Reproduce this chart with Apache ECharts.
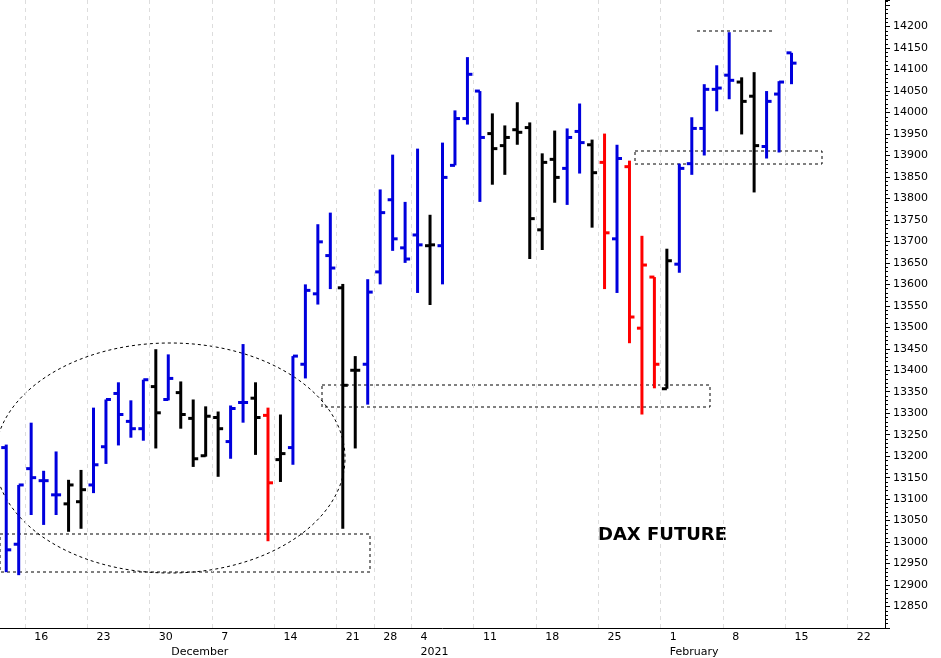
<!DOCTYPE html>
<html>
<head>
    <script src="https://cdn.jsdelivr.net/npm/echarts@6/dist/echarts.min.js"></script>
</head>
<body style="margin:0">
    <div id="chart" style="width:941px;height:658px;background:#fff"></div>
<script>
    const dates = [
        '2020-11-12', '2020-11-13',
        '2020-11-16', '2020-11-17', '2020-11-18', '2020-11-19', '2020-11-20',
        '2020-11-23', '2020-11-24', '2020-11-25', '2020-11-26', '2020-11-27',
        '2020-11-30', '2020-12-01', '2020-12-02', '2020-12-03', '2020-12-04',
        '2020-12-07', '2020-12-08', '2020-12-09', '2020-12-10', '2020-12-11',
        '2020-12-14', '2020-12-15', '2020-12-16', '2020-12-17', '2020-12-18',
        '2020-12-21', '2020-12-22', '2020-12-23',
        '2020-12-28', '2020-12-29', '2020-12-30',
        '2021-01-04', '2021-01-05', '2021-01-06', '2021-01-07', '2021-01-08',
        '2021-01-11', '2021-01-12', '2021-01-13', '2021-01-14', '2021-01-15',
        '2021-01-18', '2021-01-19', '2021-01-20', '2021-01-21', '2021-01-22',
        '2021-01-25', '2021-01-26', '2021-01-27', '2021-01-28', '2021-01-29',
        '2021-02-01', '2021-02-02', '2021-02-03', '2021-02-04', '2021-02-05',
        '2021-02-08', '2021-02-09', '2021-02-10', '2021-02-11', '2021-02-12',
        '2021-02-15', '2021-02-16', '2021-02-17', '2021-02-18', '2021-02-19',
        '2021-02-22', '2021-02-23', '2021-02-24'
    ]
    const opens = [13220, 12995, 13171, 13143, 13110, 13089, 13094, 13133, 13222, 13346, 13281, 13264,
        13362, 13332, 13348, 13288, 13201, 13290, 13234, 13325, 13335, 13295, 13192, 13220, 13414, 13578, 13667,
        13592, 13400, 13414, 13629, 13797, 13685, 13715, 13690, 13690, 13877, 13986, 14050, 13951, 13923, 13960,
        13965, 13727, 13891, 13870, 13956, 13925, 13884, 13706, 13874, 13498, 13617, 13357, 13647, 13881, 13963,
        14054, 14087, 14071, 14038, 13921, 14043, 14139]
    const highs = [13227, 13133, 13278, 13166, 13211, 13145, 13168, 13313, 13332, 13372, 13330, 13378,
        13449, 13437, 13374, 13332, 13316, 13304, 13318, 13461, 13372, 13313, 13297, 13433, 13600, 13740, 13767,
        13601, 13433, 13612, 13821, 13902, 13792, 13916, 13762, 13930, 14005, 14129, 14050, 13998, 13970, 14024,
        13977, 13905, 13958, 13963, 14021, 13937, 13951, 13925, 13888, 13713, 13617, 13683, 13881, 13989, 14066,
        14110, 14187, 14082, 14094, 14050, 14073, 14139]
    const lows = [12930, 12923, 13063, 13040, 13063, 13024, 13031, 13114, 13182, 13225, 13243, 13236,
        13218, 13330, 13264, 13175, 13199, 13152, 13194, 13278, 13203, 13002, 13140, 13180, 13381, 13553, 13589,
        13031, 13218, 13320, 13600, 13678, 13650, 13580, 13552, 13600, 13877, 13972, 13792, 13832, 13855, 13925,
        13659, 13680, 13790, 13785, 13858, 13732, 13589, 13580, 13463, 13297, 13358, 13357, 13627, 13855, 13900,
        14003, 14031, 13949, 13814, 13893, 13907, 14066]
    const closes = [12982, 13133, 13150, 13143, 13110, 13133, 13122, 13180, 13332, 13297, 13264, 13378,
        13301, 13381, 13297, 13194, 13293, 13264, 13311, 13325, 13290, 13138, 13206, 13433, 13586, 13699, 13638,
        13365, 13400, 13582, 13767, 13706, 13659, 13692, 13692, 13849, 13986, 14089, 13942, 13916, 13942, 13954,
        13753, 13884, 13849, 13942, 13930, 13860, 13720, 13893, 13524, 13645, 13414, 13655, 13870, 13963, 14054,
        14057, 14075, 14026, 13923, 14026, 14071, 14115]
    // b = blue, k = black, r = red
    const barColors = 'bbbbbkkbbbbbkbkkkkbbkrkbbbbkkbbbbbkbbbbkkkkkkbbkrbrrrkbbbbbkkbbb'
    const colorMap = { b: '#0000dd', k: '#000000', r: '#ff0000' }
    const yTicks = { min: 12800, max: 14262, step: 50 }

    const chart = echarts.init(document.getElementById('chart'))
    const ohlc = opens.map((o, i) => [i, o, highs[i], lows[i], closes[i]])

    const isMonday = d => new Date(d + 'T12:00:00Z').getUTCDay() === 1
    const monthStarts = ['2020-12-01', '2021-01-04', '2021-02-01']
    const monthNames = { '2020-12-01': 'December', '2021-01-04': '2021', '2021-02-01': 'February' }
    const font = 'DejaVu Sans'

    chart.setOption({
        animation: false,
        grid: { left: 0, right: 56, top: 0, bottom: 30, containLabel: false, outerBoundsMode: 'none' },
        xAxis: [{
            type: 'category',
            data: dates,
            boundaryGap: true,
            axisLine: { lineStyle: { color: '#000' } },
            axisTick: { interval: (i, v) => isMonday(v), length: 12, lineStyle: { color: '#000' } },
            axisLabel: {
                interval: (i, v) => isMonday(v),
                formatter: v => String(+v.slice(8)),
                align: 'left', padding: [0, 0, 0, 3],
                color: '#000', fontSize: 11, fontFamily: font, margin: -2
            },
            splitLine: { show: true, interval: (i, v) => isMonday(v), lineStyle: { color: '#ddd', type: [4, 4] } }
        }, {
            type: 'category',
            data: dates,
            position: 'bottom',
            offset: 0,
            boundaryGap: true,
            axisLine: { show: false },
            axisTick: { interval: (i, v) => monthStarts.includes(v), length: 32, lineStyle: { color: '#000' } },
            axisLabel: {
                interval: (i, v) => monthStarts.includes(v),
                formatter: v => monthNames[v] || '',
                align: 'left', padding: [0, 0, 0, 3],
                color: '#000', fontSize: 11, fontFamily: font, margin: 13
            }
        }],
        yAxis: {
            type: 'value',
            position: 'right',
            min: yTicks.min,
            max: yTicks.max,
            interval: yTicks.step,
            axisLine: { show: true, lineStyle: { color: '#000' } },
            axisTick: { show: true, length: 5, lineStyle: { color: '#000' } },
            minorTick: { show: true, splitNumber: 5, length: 3, lineStyle: { color: '#000' } },
            splitLine: { show: false },
            axisLabel: {
                color: '#000', fontSize: 11, fontFamily: font, margin: 8,
                formatter: v => (v >= 12850 && v <= 14200) ? v : ''
            }
        },
        series: [{
            type: 'custom',
            data: ohlc,
            encode: { x: 0, y: [1, 2, 3, 4] },
            renderItem: (params, api) => {
                const i = api.value(0)
                const top = api.coord([i, api.value(2)])
                const bot = api.coord([i, api.value(3)])
                const op = api.coord([i, api.value(1)])
                const cl = api.coord([i, api.value(4)])
                const style = { stroke: colorMap[barColors[i]], lineWidth: 3 }
                const x = top[0]
                return {
                    type: 'group',
                    children: [
                        { type: 'line', shape: { x1: x, y1: top[1], x2: x, y2: bot[1] }, style },
                        { type: 'line', shape: { x1: x - 5, y1: op[1], x2: x, y2: op[1] }, style },
                        { type: 'line', shape: { x1: x, y1: cl[1], x2: x + 5, y2: cl[1] }, style }
                    ]
                }
            }
        }],
        graphic: [
            { type: 'ellipse', shape: { cx: 170, cy: 458, rx: 175, ry: 115 }, style: { fill: 'none', stroke: '#000', lineWidth: 1, lineDash: [3, 3] }, silent: true },
            { type: 'rect', shape: { x: 0, y: 534, width: 370, height: 38 }, style: { fill: 'none', stroke: '#000', lineWidth: 1, lineDash: [3, 3] } },
            { type: 'rect', shape: { x: 322, y: 385, width: 388, height: 22 }, style: { fill: 'none', stroke: '#000', lineWidth: 1, lineDash: [3, 3] } },
            { type: 'rect', shape: { x: 635, y: 151, width: 187, height: 13 }, style: { fill: 'none', stroke: '#000', lineWidth: 1, lineDash: [3, 3] } },
            { type: 'line', shape: { x1: 697, y1: 31, x2: 772, y2: 31 }, style: { stroke: '#000', lineWidth: 1, lineDash: [3, 3] } },
            { type: 'text', left: 598, top: 516, style: { text: 'DAX FUTURE', fill: '#000', font: 'bold 18px "DejaVu Sans"' } }
        ]
    })
</script>
</body>
</html>
